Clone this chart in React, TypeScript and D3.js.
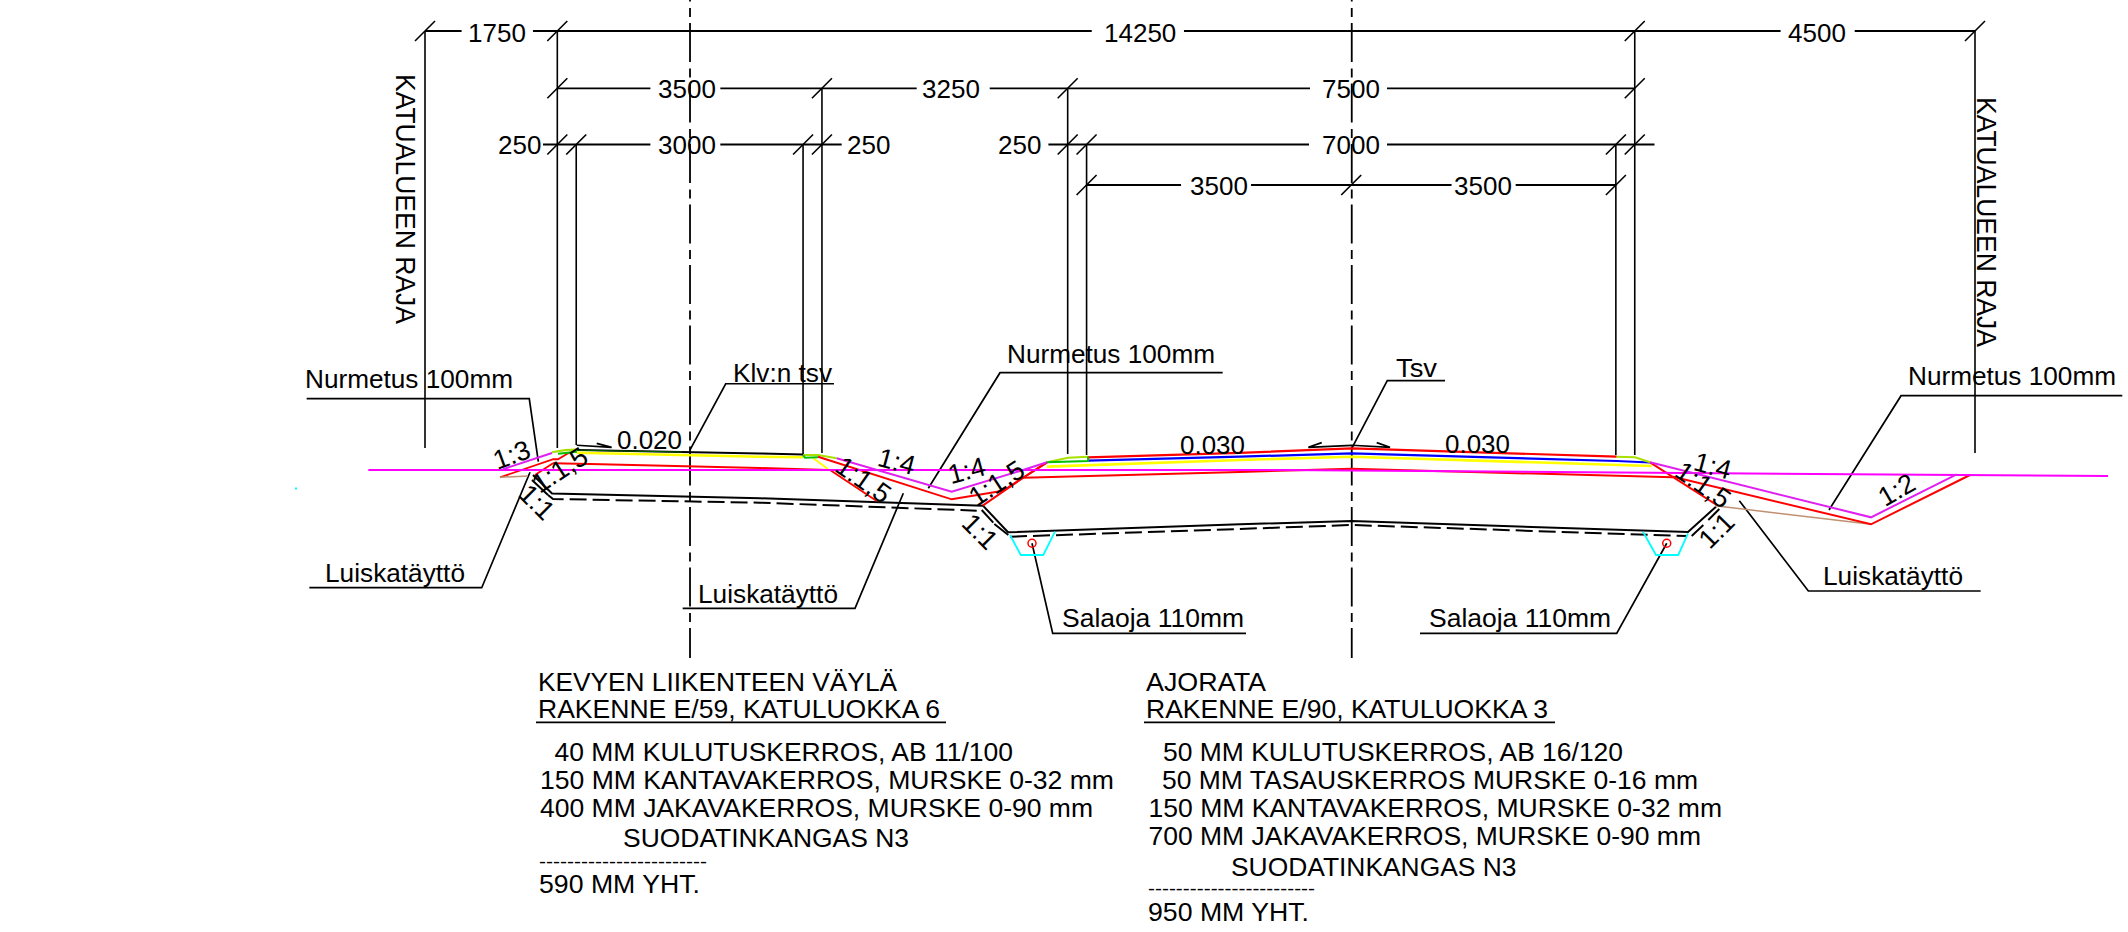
import React from "react";
import * as d3 from "d3";

type P = [number, number];

// Stations (mm from the left street boundary) and elevations (mm from the ground line)
const groundLine: P[] = [[-750, 0], [11310, 0], [22260, -80]];
const leftSlopeTop: P[] = [[1030, 10], [1680, 225]];
const leftLime: P[] = [[1680, 235], [1850, 262], [2010, 270]];
const leftGreen: P[] = [[1760, 215], [2010, 240]];
const pathTop: P[] = [[2010, 265], [4430, 218], [5000, 205]];
const pathTopGreen: P[] = [[2010, 262], [3400, 238]];
const pathYellow: P[] = [[2010, 229], [4430, 176], [5000, 168]];
const pathBase: P[] = [[1693, 89], [2182, 79], [4430, 26], [5330, 0]];
const leftRedA: P[] = [[992, -97], [1697, 142], [1759, 142], [1905, 229]];
const leftRedB: P[] = [[1455, -66], [1693, 89]];
const leftTan: P[] = [[992, -97], [1362, -79]];
const subgrade: P[] = [[1428, -66], [1680, -311], [4431, -374], [7380, -472], [7711, -824], [10779, -718], [12257, -675], [16704, -820], [17075, -485]];
const fabricSegments: P[][] = [
  [[1415, -132], [1627, -331]],
  [[7363, -529], [7516, -697]],
  [[7530, -714], [7715, -860]],
  [[16753, -873], [16907, -727]],
  [[16973, -661], [17118, -516]],
];
const fabricLeft: P[] = [[1627, -331], [1693, -384], [4431, -432], [7297, -538]];
const fabricRoad: P[] = [[7737, -882], [10779, -780], [12257, -727], [16687, -873]];
const ditchRed: P[] = [[5198, 176], [6966, -388], [7645, -274], [8227, 102]];
const ditchRedLower: P[] = [[7376, -472], [7909, -102], [8227, 102]];
const ditchTop: P[] = [[5445, 155], [6966, -287], [7909, 0], [8227, 102]];
const pathEndRed: P[] = [[5357, 0], [5974, -410]];
const pathEndYellow: P[] = [[5132, 159], [5330, 13]];
const pathEndLime: P[] = [[5000, 198], [5198, 198], [5445, 155]];
const pathEndGreen: P[] = [[5000, 198], [5026, 163], [5198, 168]];
const roadTop: P[] = [[8769, 168], [10779, 226], [12257, 287], [15761, 176]];
const roadLimeLeft: P[] = [[8227, 102], [8504, 163], [8769, 176]];
const roadGreenLeft: P[] = [[8227, 102], [8769, 119], [8769, 176]];
const roadBlue: P[] = [[8769, 123], [10779, 176], [12257, 221], [15761, 119], [16202, 99]];
const roadYellow: P[] = [[8227, 44], [10779, 132], [12257, 176], [16224, 53]];
const roadBase: P[] = [[7909, -102], [10779, -26], [12257, 17], [16506, -97]];
const roadLimeRight: P[] = [[15761, 176], [16003, 168], [16202, 102]];
const rightSlopeRed: P[] = [[16202, 102], [17084, -463]];
const rightTop: P[] = [[16202, 102], [19125, -626], [20258, -57]];
const rightRed: P[] = [[16506, -89], [19125, -718], [20434, -66]];
const rightTan: P[] = [[17061, -472], [19125, -718]];
const drainLeft: P[] = [[7737, -860], [7879, -1124], [8178, -1124], [8332, -816]];
const drainRight: P[] = [[16109, -816], [16281, -1124], [16576, -1124], [16704, -837]];
const pipes: P[] = [[8028, -969], [16423, -969]];

// Leaders
const leaderNurmetusLeft: P[] = [[-1565, 943], [1379, 943], [1499, 110]];
const leaderLuiskaLeft: P[] = [[-1530, -1557], [750, -1557], [1389, -30]];
const leaderKlv: P[] = [[3505, 265], [3977, 1141], [5409, 1141]];
const leaderNurmetusMid: P[] = [[6657, -242], [7605, 1287], [10550, 1287]];
const leaderLuiskaMid: P[] = [[6326, -308], [5687, -1829], [3408, -1829]];
const leaderSalaojaLeft: P[] = [[8028, -969], [8302, -2160], [10858, -2160]];
const leaderSalaojaRight: P[] = [[16423, -969], [15761, -2160], [13160, -2160]];
const leaderTsv: P[] = [[12257, 287], [12727, 1181], [13491, 1181]];
const leaderNurmetusRight: P[] = [[18569, -529], [19522, 983], [22448, 983]];
const leaderLuiskaRight: P[] = [[17383, -406], [18296, -1600], [20575, -1600]];
const slopeArrows: P[][] = [
  [[2006, 327], [2469, 300], [2271, 353]],
  [[11860, 362], [11683, 300], [12257, 327], [12763, 300], [12587, 362]],
];

// Dimension chains
const dimRow1Ticks = [0, 1750, 16000, 20500];
const dimRow2Ticks = [1750, 5250, 8500, 16000];
const dimRow3Ticks = [1750, 2000, 5000, 5250, 8500, 8750, 15750, 16000];
const dimRow4Ticks = [8750, 12250, 15750];
const dimRow1Lines: P[] = [[0, 484], [1428, 8818], [10038, 17929], [18909, 20500]];
const dimRow2Lines: P[] = [[1750, 2981], [3906, 6503], [7469, 11705], [12723, 16000]];
const dimRow3Lines: P[] = [[1561, 2981], [3906, 5511], [8245, 11692], [12723, 16261]];
const dimRow4Lines: P[] = [[8750, 9999], [10925, 13577], [14425, 15750]];
const dimRow1Labels = ["1750", "14250", "4500"];
const dimRow2Labels = ["3500", "3250", "7500"];
const dimRow3Labels = ["250", "3000", "250", "250", "7000"];
const dimRow4Labels = ["3500", "3500"];
const extensionStations = [0, 1750, 2000, 5000, 5250, 8500, 8750, 15750, 16000, 20500];
const extensionRows = [0, 0, 2, 2, 1, 1, 2, 2, 0, 0];
const extensionBottoms = [291, 291, 330, 198, 225, 212, 198, 198, 198, 225];
const centreStations = [3505, 12257];

// Texts
const pathTitle = ["KEVYEN LIIKENTEEN VÄYLÄ", "RAKENNE E/59, KATULUOKKA 6"];
const pathLayers = ["40 MM KULUTUSKERROS, AB 11/100", "150 MM KANTAVAKERROS, MURSKE 0-32 mm", "400 MM JAKAVAKERROS, MURSKE 0-90 mm", "SUODATINKANGAS N3", "------------------------", "590 MM YHT."];
const roadTitle = ["AJORATA", "RAKENNE E/90, KATULUOKKA 3"];
const roadLayers = ["50 MM KULUTUSKERROS, AB 16/120", "50 MM TASAUSKERROS MURSKE 0-16 mm", "150 MM KANTAVAKERROS, MURSKE 0-32 mm", "700 MM JAKAVAKERROS, MURSKE 0-90 mm", "SUODATINKANGAS N3", "------------------------", "950 MM YHT."];
const boundaryLabel = "KATUALUEEN RAJA";
const slopeTexts = ["1:3", "1:1,5", "1:1", "1:1,5", "1:4", "1:4", "1:1,5", "1:1", "1:4", "1:1,5", "1:1", "1:2"];
const gradeTexts = ["0.020", "0.030", "0.030"];
const noteTexts = ["Nurmetus 100mm", "Luiskatäyttö", "Klv:n tsv", "Nurmetus 100mm", "Luiskatäyttö", "Salaoja 110mm", "Salaoja 110mm", "Tsv", "Nurmetus 100mm", "Luiskatäyttö"];

const FONT = "'Liberation Sans', Arial, sans-serif";
const BLACK = "#000";
const RED = "#ff0000";
const MAGENTA = "#ff00ff";
const PURPLE = "#e020f0";
const YELLOW = "#ffff00";
const LIME = "#a8e000";
const GREEN = "#00c000";
const BLUE = "#0000ff";
const CYAN = "#00ffff";
const TAN = "#c09070";
const SLOPE_SIZE = 27;

const x = d3.scaleLinear().domain([0, 20500]).range([425, 1975]);
const y = d3.scaleLinear().domain([0, 1000]).range([470, 470 - 1550 / 20.5]);
const line = d3.line<P>().x((d) => x(d[0])).y((d) => y(d[1]));
const rowY = [31, 88.3, 144.5, 185];

const Path = ({ d, c = BLACK, w = 2, dash }: { d: P[]; c?: string; w?: number; dash?: string }) => (
  <path d={line(d) ?? ""} fill="none" stroke={c} strokeWidth={w} strokeDasharray={dash} strokeLinejoin="miter" />
);

const Txt = ({ t, px, py, size = 25, w, rot, mid }: { t: string; px: number; py: number; size?: number; w?: number; rot?: number; mid?: boolean }) => (
  <text
    x={px}
    y={py}
    fontFamily={FONT}
    fontSize={size}
    fill="#000"
    textAnchor={mid ? "middle" : "start"}
    dominantBaseline={mid ? "central" : undefined}
    textLength={w}
    lengthAdjust={w ? "spacingAndGlyphs" : undefined}
    transform={rot !== undefined ? `rotate(${rot} ${px} ${py})` : undefined}
  >
    {t}
  </text>
);

export default function App() {
  const dimRows = [
    { ticks: dimRow1Ticks, lines: dimRow1Lines, labels: dimRow1Labels, xs: [468, 1104, 1788], base: 41.7 },
    { ticks: dimRow2Ticks, lines: dimRow2Lines, labels: dimRow2Labels, xs: [658, 922, 1322], base: 98.3 },
    { ticks: dimRow3Ticks, lines: dimRow3Lines, labels: dimRow3Labels, xs: [498, 658, 847, 998, 1322], base: 154.2 },
    { ticks: dimRow4Ticks, lines: dimRow4Lines, labels: dimRow4Labels, xs: [1190, 1454], base: 194.5 },
  ];
  return (
    <svg width={2128} height={932} style={{ position: "fixed", left: 0, top: 0, background: "#fff" }}>
      {/* extension lines */}
      {extensionStations.map((s, i) => (
        <line key={s} x1={x(s)} x2={x(s)} y1={rowY[extensionRows[i]]} y2={y(extensionBottoms[i])} stroke={BLACK} strokeWidth={1.6} />
      ))}
      {/* centre lines */}
      {centreStations.map((s) => (
        <line key={s} x1={x(s)} x2={x(s)} y1={0} y2={658} stroke={BLACK} strokeWidth={1.8} strokeDasharray="39 6.5 9 6" strokeDashoffset={37.5} />
      ))}
      {/* dimension rows */}
      {dimRows.map((row, r) => (
        <g key={r}>
          {row.lines.map((l, i) => (
            <line key={i} x1={x(l[0])} x2={x(l[1])} y1={rowY[r]} y2={rowY[r]} stroke={BLACK} strokeWidth={1.8} />
          ))}
          {row.ticks.map((t) => (
            <line key={t} x1={x(t) - 10} x2={x(t) + 10} y1={rowY[r] + 10} y2={rowY[r] - 10} stroke={BLACK} strokeWidth={1.6} />
          ))}
          {row.labels.map((t, i) => (
            <Txt key={i} t={t} px={row.xs[i]} py={row.base} size={26} />
          ))}
        </g>
      ))}

      <Txt t={boundaryLabel} px={396} py={74} size={28} w={250} rot={90} />
      <Txt t={boundaryLabel} px={1977} py={97} size={28} w={250} rot={90} />

      {/* leaders */}
      {[leaderNurmetusLeft, leaderLuiskaLeft, leaderKlv, leaderNurmetusMid, leaderLuiskaMid, leaderSalaojaLeft, leaderSalaojaRight, leaderTsv, leaderNurmetusRight, leaderLuiskaRight].map((d, i) => (
        <Path key={i} d={d} w={1.7} />
      ))}
      {slopeArrows.map((d, i) => <Path key={i} d={d} w={1.7} />)}

      {/* structure */}
      <Path d={subgrade} w={2} />
      {fabricSegments.map((d, i) => <Path key={i} d={d} w={2} />)}
      <Path d={fabricLeft} w={2} dash="17 6" />
      <Path d={fabricRoad} w={2} dash="17 6" />
      <Path d={pathTop} w={2} />
      <Path d={pathTopGreen} c="#006000" w={1} />
      <Path d={pathYellow} c={YELLOW} w={2.4} />
      <Path d={pathBase} c={RED} w={2} />
      <Path d={leftRedA} c={RED} w={1.8} />
      <Path d={leftRedB} c={RED} w={1.8} />
      <Path d={leftTan} c={TAN} w={1.5} />
      <Path d={leftGreen} c={GREEN} w={2} />
      <Path d={leftLime} c={LIME} w={2.2} />
      <Path d={pathEndYellow} c={YELLOW} w={1.8} />
      <Path d={pathEndLime} c={LIME} w={2} />
      <Path d={pathEndGreen} c={GREEN} w={2} />
      <Path d={pathEndRed} c={RED} w={1.8} />
      <Path d={ditchRed} c={RED} w={2} />
      <Path d={ditchRedLower} c={RED} w={2} />
      <Path d={roadYellow} c={YELLOW} w={2.6} />
      <Path d={roadBlue} c={BLUE} w={2.2} />
      <Path d={roadTop} c={RED} w={2.2} />
      <Path d={roadBase} c={RED} w={2} />
      <Path d={roadLimeLeft} c={LIME} w={2} />
      <Path d={roadGreenLeft} c={GREEN} w={2} />
      <Path d={roadLimeRight} c={LIME} w={2} />
      <Path d={rightSlopeRed} c={RED} w={2} />
      <Path d={rightTan} c={TAN} w={1.5} />
      <Path d={rightRed} c={RED} w={2} />
      <Path d={groundLine} c={MAGENTA} w={2} />
      <Path d={leftSlopeTop} c={PURPLE} w={2} />
      <Path d={ditchTop} c={PURPLE} w={2} />
      <Path d={rightTop} c={PURPLE} w={2} />
      <Path d={drainLeft} c={CYAN} w={1.8} />
      <Path d={drainRight} c={CYAN} w={1.8} />
      {pipes.map((p, i) => (
        <circle key={i} cx={x(p[0])} cy={y(p[1])} r={4} fill="none" stroke={RED} strokeWidth={1.5} />
      ))}
      <rect x={295} y={487.5} width={2} height={2} fill={CYAN} />

      {/* notes */}
      <Txt t={noteTexts[0]} px={305} py={387.7} size={26} w={208} />
      <Txt t={noteTexts[1]} px={325} py={581.7} size={26} w={140} />
      <Txt t={noteTexts[2]} px={733} py={381.7} size={26} w={99} />
      <Txt t={noteTexts[3]} px={1007} py={362.7} size={26} w={208} />
      <Txt t={noteTexts[4]} px={698} py={602.7} size={26} w={140} />
      <Txt t={noteTexts[5]} px={1062} py={627.3} size={26} w={182} />
      <Txt t={noteTexts[6]} px={1429} py={627.3} size={26} w={182} />
      <Txt t={noteTexts[7]} px={1396} py={377.3} size={26} w={41} />
      <Txt t={noteTexts[8]} px={1908} py={385} size={26} w={208} />
      <Txt t={noteTexts[9]} px={1823} py={585} size={26} w={140} />

      {/* grades */}
      <Txt t={gradeTexts[0]} px={617} py={449.3} size={25} w={65} />
      <Txt t={gradeTexts[1]} px={1180} py={454} size={25} w={65} />
      <Txt t={gradeTexts[2]} px={1445} py={453.3} size={25} w={65} />

      {/* slope ratios */}
      <Txt t={slopeTexts[0]} px={511.7} py={455} size={SLOPE_SIZE} rot={-20} mid />
      <Txt t={slopeTexts[1]} px={560} py={470} size={SLOPE_SIZE} rot={-33} mid />
      <Txt t={slopeTexts[2]} px={536.7} py={502.3} size={SLOPE_SIZE} rot={45} mid />
      <Txt t={slopeTexts[3]} px={863.3} py={480} size={SLOPE_SIZE} rot={35} mid />
      <Txt t={slopeTexts[4]} px={896.7} py={461.7} size={SLOPE_SIZE} rot={15} mid />
      <Txt t={slopeTexts[5]} px={966.7} py={470.7} size={SLOPE_SIZE} rot={-15} mid />
      <Txt t={slopeTexts[6]} px={996.7} py={483.3} size={SLOPE_SIZE} rot={-33} mid />
      <Txt t={slopeTexts[7]} px={980} py={531.7} size={SLOPE_SIZE} rot={45} mid />
      <Txt t={slopeTexts[8]} px={1712.7} py={466} size={SLOPE_SIZE} rot={15} mid />
      <Txt t={slopeTexts[9]} px={1703} py={485} size={SLOPE_SIZE} rot={35} mid />
      <Txt t={slopeTexts[10]} px={1716.7} py={530.7} size={SLOPE_SIZE} rot={-45} mid />
      <Txt t={slopeTexts[11]} px={1896.7} py={490} size={SLOPE_SIZE} rot={-30} mid />

      {/* left structure text */}
      <Txt t={pathTitle[0]} px={538} py={690.7} w={359} />
      <Txt t={pathTitle[1]} px={538} py={718.3} w={402} />
      <line x1={536} x2={946} y1={722.3} y2={722.3} stroke={BLACK} strokeWidth={1.8} />
      <Txt t={pathLayers[0]} px={554.5} py={761} w={458.5} />
      <Txt t={pathLayers[1]} px={540} py={788.7} w={574} />
      <Txt t={pathLayers[2]} px={540} py={816.7} w={553} />
      <Txt t={pathLayers[3]} px={623} py={847.3} w={286} />
      <Txt t={pathLayers[4]} px={539} py={867.7} size={18} w={168} />
      <Txt t={pathLayers[5]} px={539} py={892.7} w={161} />

      {/* right structure text */}
      <Txt t={roadTitle[0]} px={1146} py={690.7} w={120} />
      <Txt t={roadTitle[1]} px={1146} py={718.3} w={402} />
      <line x1={1144} x2={1555} y1={722.3} y2={722.3} stroke={BLACK} strokeWidth={1.8} />
      <Txt t={roadLayers[0]} px={1163} py={761} w={460} />
      <Txt t={roadLayers[1]} px={1162} py={789.3} w={536} />
      <Txt t={roadLayers[2]} px={1148.5} py={817.3} w={573.5} />
      <Txt t={roadLayers[3]} px={1148.5} py={845} w={552.5} />
      <Txt t={roadLayers[4]} px={1231} py={876} w={285.5} />
      <Txt t={roadLayers[5]} px={1148} py={895.4} size={18} w={167} />
      <Txt t={roadLayers[6]} px={1148} py={920.7} w={161} />
    </svg>
  );
}
